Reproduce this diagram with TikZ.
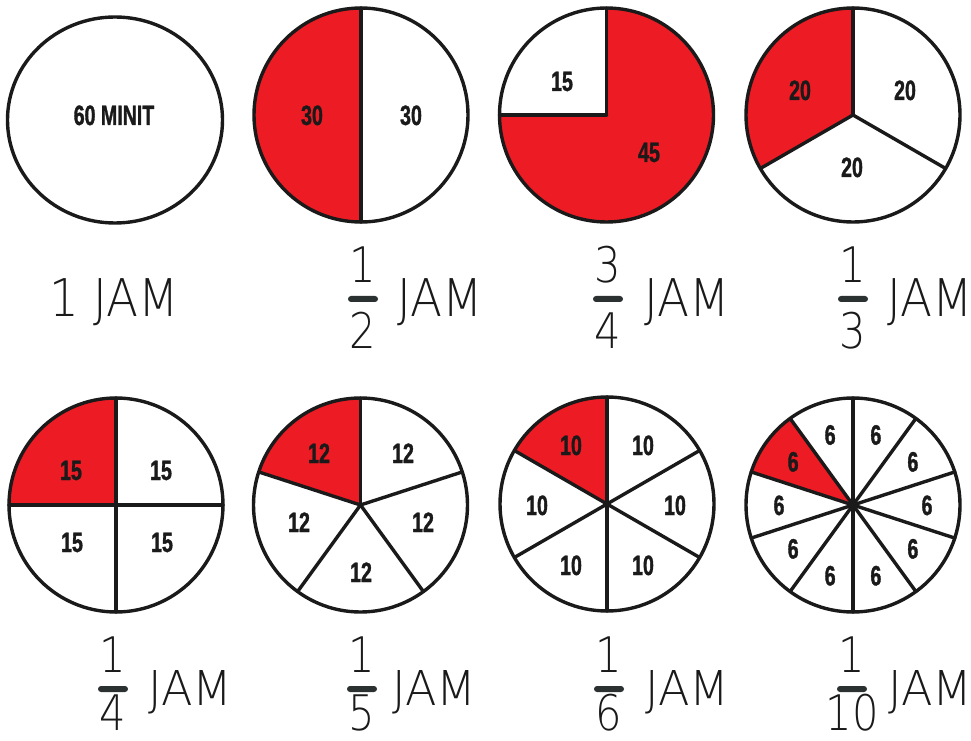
\documentclass[tikz,border=0pt]{standalone}
\usepackage{fontspec}
\usetikzlibrary{calc}
\newfontfamily\numfont[FakeStretch=0.70,FakeBold=1.2]{Liberation Sans}
\newfontfamily\handfont[FakeStretch=0.90]{DejaVu Sans ExtraLight}
\newfontfamily\handfontw[FakeStretch=0.96]{DejaVu Sans ExtraLight}
\newfontfamily\digitfont[FakeStretch=0.85]{DejaVu Sans ExtraLight}
\definecolor{pie}{HTML}{ED1C24}
\definecolor{ink}{HTML}{1A1A1A}
\definecolor{barc}{HTML}{2B3130}
\begin{document}
\begin{tikzpicture}[x=1pt,y=1pt,
  rim/.style={draw=ink,line width=3.4pt},
  spoke/.style={draw=ink,line width=3.4pt,line cap=round},
  num/.style={font={\numfont\bfseries\fontsize{28pt}{30pt}\selectfont}, text=ink, text height=20pt, text depth=0pt, inner sep=0pt},
  hand/.style={font={\handfont\fontsize{52pt}{56pt}\selectfont}, text=ink, text height=38pt, text depth=0pt, inner sep=0pt, anchor=west},
  handsm/.style={font={\handfontw\fontsize{48pt}{52pt}\selectfont}, text=ink, text height=35pt, text depth=0pt, inner sep=0pt, anchor=west},
  digit/.style={font={\digitfont\fontsize{49pt}{52pt}\selectfont}, text=ink, text height=36pt, text depth=0pt, inner sep=0pt},
  fbar/.style={fill=barc, minimum width=30pt, minimum height=6pt, rounded corners=3pt, inner sep=0pt}]
\useasboundingbox (0,0) rectangle (971,740);
\fill[white] (0,0) rectangle (971,740);
\def\R{107}
% ---------- circle 1 : 60 minit
\coordinate (c1) at (115,620);
\draw[rim] (c1) ellipse[x radius=107.5, y radius=103];
\node[num] (t1) at (114,625) {60 MINIT};
% ---------- circle 2 : halves
\coordinate (c2) at (361,625);
\fill[pie] (c2) -- ++(90:\R) arc[start angle=90,end angle=270,radius=\R] -- cycle;
\draw[spoke] (c2) -- ++(90:\R);
\draw[spoke] (c2) -- ++(270:\R);
\draw[rim] (c2) circle[radius=\R];
\node[num] (t2a) at (312,625) {30};
\node[num] (t2b) at (411,625) {30};
% ---------- circle 3 : three quarters
\coordinate (c3) at (606.5,625);
\fill[pie] (c3) -- ++(180:\R) arc[start angle=180,end angle=450,radius=\R] -- cycle;
\draw[spoke] (c3) -- ++(90:\R);
\draw[spoke] (c3) -- ++(180:\R);
\draw[rim] (c3) circle[radius=\R];
\node[num] (t3a) at (562,659) {15};
\node[num] (t3b) at (649,588) {45};
% ---------- circle 4 : thirds
\coordinate (c4) at (853,625);
\fill[pie] (c4) -- ++(90:\R) arc[start angle=90,end angle=210,radius=\R] -- cycle;
\foreach \a in {90,210,330} \draw[spoke] (c4) -- ++(\a:\R);
\draw[rim] (c4) circle[radius=\R];
\node[num] (t4a) at (800,650) {20};
\node[num] (t4b) at (905,650) {20};
\node[num] (t4c) at (852,573) {20};
% ---------- circle 5 : quarters
\coordinate (c5) at (116,235);
\fill[pie] (c5) -- ++(90:\R) arc[start angle=90,end angle=180,radius=\R] -- cycle;
\foreach \a in {0,90,180,270} \draw[spoke] (c5) -- ++(\a:\R);
\draw[rim] (c5) circle[radius=\R];
\node[num] (t5a) at (71,270) {15};
\node[num] (t5b) at (161,270) {15};
\node[num] (t5c) at (72,198) {15};
\node[num] (t5d) at (162,198) {15};
% ---------- circle 6 : fifths
\coordinate (c6) at (360.5,235);
\fill[pie] (c6) -- ++(90:\R) arc[start angle=90,end angle=162,radius=\R] -- cycle;
\foreach \a in {18,90,162,234,306} \draw[spoke] (c6) -- ++(\a:\R);
\draw[rim] (c6) circle[radius=\R];
\node[num] (t6a) at (319,287) {12};
\node[num] (t6b) at (403,287) {12};
\node[num] (t6c) at (423,218) {12};
\node[num] (t6d) at (361,168) {12};
\node[num] (t6e) at (299,218) {12};
% ---------- circle 7 : sixths
\coordinate (c7) at (607,236);
\fill[pie] (c7) -- ++(90:\R) arc[start angle=90,end angle=150,radius=\R] -- cycle;
\foreach \a in {30,90,150,210,270,330} \draw[spoke] (c7) -- ++(\a:\R);
\draw[rim] (c7) circle[radius=\R];
\node[num] (t7a) at (571,295) {10};
\node[num] (t7b) at (643,295) {10};
\node[num] (t7c) at (675,235) {10};
\node[num] (t7d) at (643,175) {10};
\node[num] (t7e) at (571,175) {10};
\node[num] (t7f) at (537,235) {10};
% ---------- circle 8 : tenths
\coordinate (c8) at (853,235);
\fill[pie] (c8) -- ++(126:\R) arc[start angle=126,end angle=162,radius=\R] -- cycle;
\foreach \a in {18,54,90,126,162,198,234,270,306,342} \draw[spoke] (c8) -- ++(\a:\R);
\draw[rim] (c8) circle[radius=\R];
\foreach \a [count=\i] in {0,36,72,108,144,180,216,252,288,324}
  \node[num] (t8\i) at ($(c8)+(\a:74)$) {6};
% ---------- labels row 1
\node[hand] (l1) at (49,442.5) {1 JAM};
\node[digit] (n2) at (363,475) {1};
\node[fbar] (b2) at (363,441) {};
\node[digit] (d2) at (363,409.5) {2};
\node[hand] (l2) at (397,442.5) {JAM};
\node[digit] (n3) at (608,475) {3};
\node[fbar] (b3) at (608,441) {};
\node[digit] (d3) at (608,409.5) {4};
\node[hand] (l3) at (644,442.5) {JAM};
\node[digit] (n4) at (853,475) {1};
\node[fbar] (b4) at (853,441) {};
\node[digit] (d4) at (853,409.5) {3};
\node[hand] (l4) at (887,442.5) {JAM};
% ---------- labels row 2
\node[digit] (n5) at (113,86) {1};
\node[fbar] (b5) at (113,51) {};
\node[digit] (d5) at (113,28) {4};
\node[handsm] (l5) at (148,52.5) {JAM};
\node[digit] (n6) at (362,86) {1};
\node[fbar] (b6) at (362,51) {};
\node[digit] (d6) at (362,28) {5};
\node[handsm] (l6) at (392,52.5) {JAM};
\node[digit] (n7) at (609,86) {1};
\node[fbar] (b7) at (609,51) {};
\node[digit] (d7) at (609,28) {6};
\node[handsm] (l7) at (645,52.5) {JAM};
\node[digit] (n8) at (852,86) {1};
\node[fbar] (b8) at (852,51) {};
\node[digit] (d8) at (852,28) {10};
\node[handsm] (l8) at (888,52.5) {JAM};
\end{tikzpicture}
\end{document}
